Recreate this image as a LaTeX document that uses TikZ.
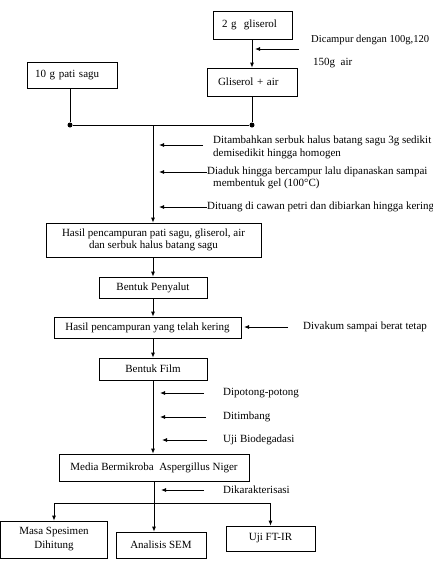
\documentclass[tikz,border=0pt]{standalone}
\usepackage{fontspec}
\setmainfont{Liberation Serif}
\usetikzlibrary{arrows.meta}
\begin{document}
\begin{tikzpicture}[x=1pt,y=-1pt,
  font=\fontsize{11}{12.5}\selectfont,
  box/.style={draw,line width=0.7pt,inner sep=2pt,align=center},
  conn/.style={line width=0.9pt},
  arr/.style={conn,-{Latex[length=5pt,width=4pt]}},
  sidearr/.style={line width=0.8pt,-{Latex[length=5pt,width=4pt]}},
  jdot/.style={circle,fill,inner sep=0pt,minimum size=5pt},
  note/.style={anchor=west,inner sep=0pt,align=left}]
\useasboundingbox (0,0) rectangle (433,566);

% boxes
\node[box,minimum width=79pt,minimum height=28pt,text width=61pt,align=left] (gli) at (252.5,25) {2 g~ gliserol};
\node[box,minimum width=90pt,minimum height=28pt,text width=68pt,align=left] (ga) at (252,82) {Gliserol + air};
\node[box,minimum width=90pt,minimum height=26pt,text width=74pt,align=left] (pati) at (72,75) {10 g pati sagu};
\node[box,minimum width=215pt,minimum height=34pt] (hasil1) at (153.5,240) {Hasil pencampuran pati sagu, gliserol, air\\dan serbuk halus batang sagu};
\node[box,minimum width=108pt,minimum height=21pt] (peny) at (153,287.5) {Bentuk Penyalut};
\node[box,minimum width=187pt,minimum height=21pt] (kering) at (147.5,327.5) {Hasil pencampuran yang telah kering};
\node[box,minimum width=108pt,minimum height=22pt] (film) at (153,369) {Bentuk Film};
\node[box,minimum width=190pt,minimum height=27pt] (media) at (154,467.5) {Media Bermikroba~ Aspergillus Niger};
\node[box,minimum width=107pt,minimum height=37pt,font=\fontsize{11}{14}\selectfont] (masa) at (54,539.5) {Masa Spesimen\\Dihitung};
\node[box,minimum width=90pt,minimum height=26pt] (sem) at (161,545) {Analisis SEM};
\node[box,minimum width=89pt,minimum height=25pt] (ftir) at (270.5,538.5) {Uji FT-IR};

% junctions
\node[jdot] (j1) at (70,125) {};
\node[jdot] (j2) at (252,125) {};
\coordinate (m) at (153,125);
\coordinate (sp) at (154,503);

% main connectors
\draw[arr] (ga.north |- gli.south) -- (ga.north);
\draw[conn] (j1 |- pati.south) -- (j1);
\draw[conn] (j2 |- ga.south) -- (j2);
\draw[conn] (j1) -- (j2);
\draw[arr] (m) -- (m |- hasil1.north);
\draw[arr] (peny.north |- hasil1.south) -- (peny.north);
\draw[arr] (peny.south) -- (peny.south |- kering.north);
\draw[arr] (film.north |- kering.south) -- (film.north);
\draw[arr] (film.south) -- (film.south |- media.north);
\draw[arr] (media.south) -- (media.south |- sem.north);
\draw[conn] (masa.north |- sp) -- (ftir.north |- sp);
\draw[arr] (masa.north |- sp) -- (masa.north);
\draw[arr] (ftir.north |- sp) -- (ftir.north);

% side arrows
\coordinate (s0a) at (299,49); \coordinate (s0b) at (255,49);
\coordinate (s1a) at (203,145); \coordinate (s1b) at (159,145);
\coordinate (s2a) at (207,172); \coordinate (s2b) at (159,172);
\coordinate (s3a) at (207,207); \coordinate (s3b) at (159,207);
\coordinate (s4a) at (288,327); \coordinate (s4b) at (244,327);
\coordinate (s5a) at (204,393); \coordinate (s5b) at (160,393);
\coordinate (s6a) at (206,417); \coordinate (s6b) at (160,417);
\coordinate (s7a) at (207,440); \coordinate (s7b) at (162,440);
\coordinate (s8a) at (204,490); \coordinate (s8b) at (161,490);
\foreach \i in {0,...,8} {\draw[sidearr] (s\i a) -- (s\i b);}

% notes
\node[note,font=\fontsize{10.6}{12}\selectfont] (d1) at (311,40) {Dicampur dengan 100g,120};
\node[note] (d2) at (313,63) {150g~ air};
\node[note,font=\fontsize{11}{13}\selectfont] (t1) at (213,147.5) {Ditambahkan serbuk halus batang sagu 3g sedikit\\demisedikit hingga homogen};
\node[note,font=\fontsize{11}{12.5}\selectfont] (t2) at (207,178) {Diaduk hingga bercampur lalu dipanaskan sampai\\\hspace*{6pt}membentuk gel (100°C)};
\node[note] (t3) at (207,207) {Dituang di cawan petri dan dibiarkan hingga kering};
\node[note] (t4) at (303,327) {Divakum sampai berat tetap};
\node[note] (t5) at (223,393) {Dipotong-potong};
\node[note] (t6) at (223,417) {Ditimbang};
\node[note] (t7) at (223,440) {Uji Biodegadasi};
\node[note] (t8) at (223,490) {Dikarakterisasi};
\end{tikzpicture}
\end{document}
